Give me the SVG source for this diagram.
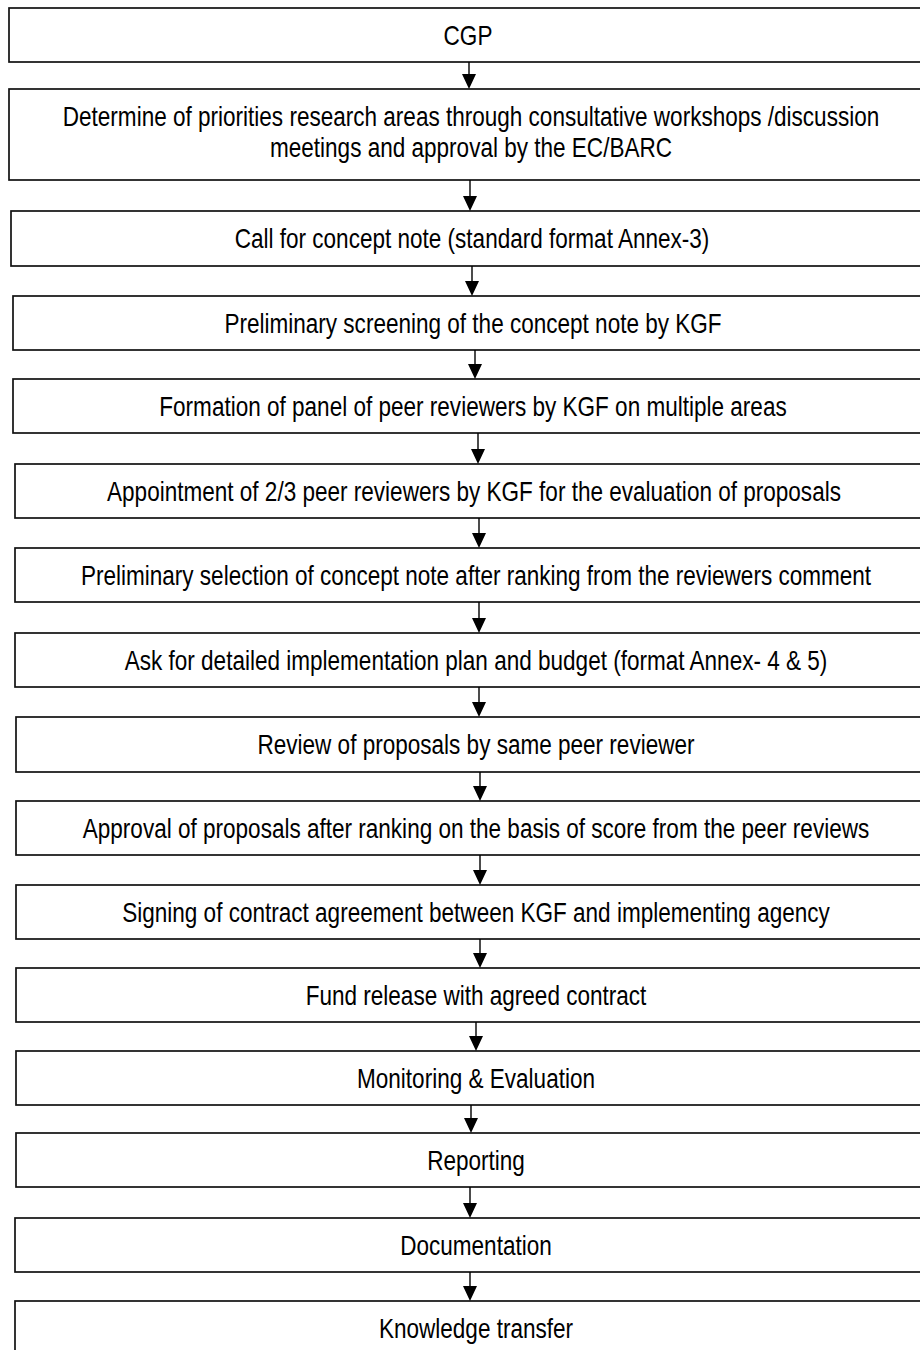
<svg xmlns="http://www.w3.org/2000/svg" width="920" height="1350" viewBox="0 0 920 1350">
<defs>
<style>
.box{fill:#fff;stroke:#111;stroke-width:1.7}
.t{font-family:"Liberation Sans",Arial,sans-serif;font-size:27.5px;fill:#000;text-anchor:middle}
.c{stroke:#000;stroke-width:1.4;fill:none}
.h{fill:#000}
</style>
</defs>
<rect width="920" height="1350" fill="#fff"/>
<g id="n1"><rect class="box" x="9" y="8" width="920" height="54"/><text class="t" transform="translate(468,45) scale(0.82,1)">CGP</text></g>
<g id="n2"><rect class="box" x="9" y="89" width="920" height="91"/><text class="t" transform="translate(471,126) scale(0.82,1)">Determine of priorities research areas through consultative workshops /discussion</text><text class="t" transform="translate(471,157) scale(0.82,1)">meetings and approval by the EC/BARC</text></g>
<g id="n3"><rect class="box" x="11" y="211" width="920" height="55"/><text class="t" transform="translate(472,248) scale(0.82,1)">Call for concept note (standard format Annex-3)</text></g>
<g id="n4"><rect class="box" x="13" y="296" width="920" height="54"/><text class="t" transform="translate(473,333) scale(0.82,1)">Preliminary screening of the concept note by KGF</text></g>
<g id="n5"><rect class="box" x="13" y="379" width="920" height="54"/><text class="t" transform="translate(473,416) scale(0.82,1)">Formation of panel of peer reviewers by KGF on multiple areas</text></g>
<g id="n6"><rect class="box" x="15" y="464" width="920" height="54"/><text class="t" transform="translate(474,501) scale(0.82,1)">Appointment of 2/3 peer reviewers by KGF for the evaluation of proposals</text></g>
<g id="n7"><rect class="box" x="15" y="548" width="920" height="54"/><text class="t" transform="translate(476,585) scale(0.82,1)">Preliminary selection of concept note after ranking from the reviewers comment</text></g>
<g id="n8"><rect class="box" x="15" y="633" width="920" height="54"/><text class="t" transform="translate(476,670) scale(0.82,1)">Ask for detailed implementation plan and budget (format Annex- 4 &amp; 5)</text></g>
<g id="n9"><rect class="box" x="16" y="717" width="920" height="55"/><text class="t" transform="translate(476,754) scale(0.82,1)">Review of proposals by same peer reviewer</text></g>
<g id="n10"><rect class="box" x="16" y="801" width="920" height="54"/><text class="t" transform="translate(476,838) scale(0.82,1)">Approval of proposals after ranking on the basis of score from the peer reviews</text></g>
<g id="n11"><rect class="box" x="16" y="885" width="920" height="54"/><text class="t" transform="translate(476,922) scale(0.82,1)">Signing of contract agreement between KGF and implementing agency</text></g>
<g id="n12"><rect class="box" x="16" y="968" width="920" height="54"/><text class="t" transform="translate(476,1005) scale(0.82,1)">Fund release with agreed contract</text></g>
<g id="n13"><rect class="box" x="16" y="1051" width="920" height="54"/><text class="t" transform="translate(476,1088) scale(0.82,1)">Monitoring &amp; Evaluation</text></g>
<g id="n14"><rect class="box" x="16" y="1133" width="920" height="54"/><text class="t" transform="translate(476,1170) scale(0.82,1)">Reporting</text></g>
<g id="n15"><rect class="box" x="15" y="1218" width="920" height="54"/><text class="t" transform="translate(476,1255) scale(0.82,1)">Documentation</text></g>
<g id="n16"><rect class="box" x="15" y="1301" width="920" height="60"/><text class="t" transform="translate(476,1338) scale(0.82,1)">Knowledge transfer</text></g>
<g id="connectors">
<path class="c" d="M469 62V75M470 180V197M472 266V282M475 350V365M478 433V450M479 518V534M479 602V619M479 687V703M480 772V787M480 855V871M480 939V954M476 1022V1037M471 1105V1119M470 1187V1204M470 1272V1287"/>
<path class="h" d="M462 74H476L469 89ZM463 196H477L470 211ZM465 281H479L472 296ZM468 364H482L475 379ZM471 449H485L478 464ZM472 533H486L479 548ZM472 618H486L479 633ZM472 702H486L479 717ZM473 786H487L480 801ZM473 870H487L480 885ZM473 953H487L480 968ZM469 1036H483L476 1051ZM464 1118H478L471 1133ZM463 1203H477L470 1218ZM463 1286H477L470 1301Z"/>
</g>
</svg>
